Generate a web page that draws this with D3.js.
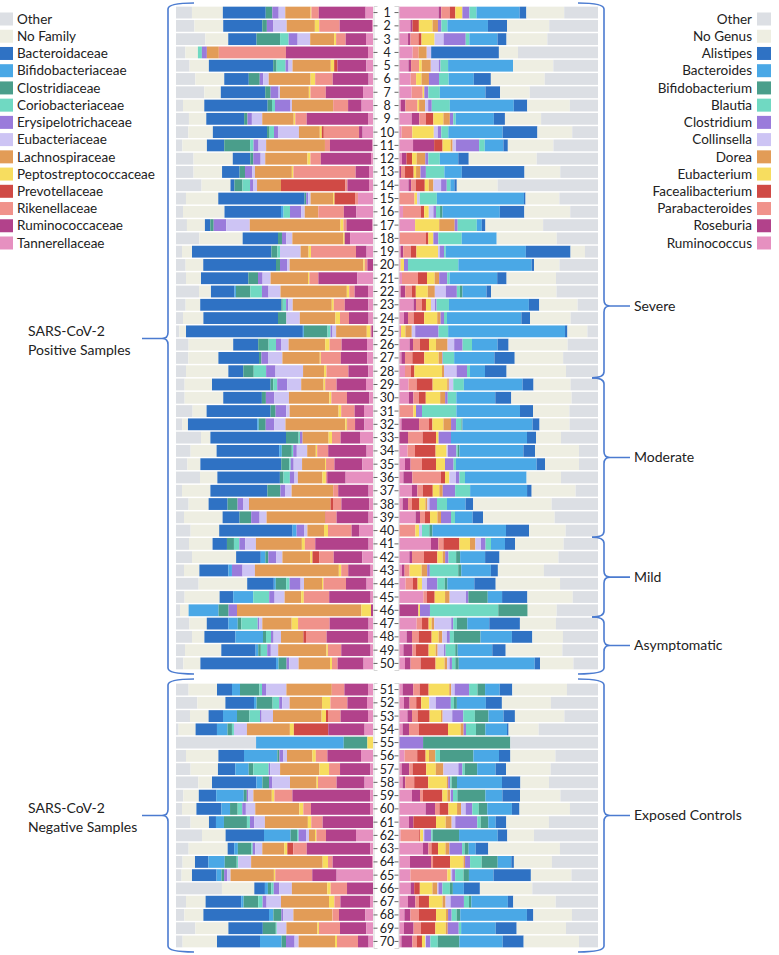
<!DOCTYPE html>
<html>
<head>
<meta charset="utf-8">
<script src="https://cdn.jsdelivr.net/npm/d3@7"></script>
<style>
  body { margin: 0; background: #fff; }
  svg { font-family: Lato, "Open Sans", sans-serif; }
</style>
</head>
<body>
<div id="chart"></div>
<script>
// ---------- DATA ---------- //
// family legend order == left panel stack order (outer -> centre)
const families = ["Other", "No Family", "Bacteroidaceae", "Bifidobacteriaceae", "Clostridiaceae",
  "Coriobacteriaceae", "Erysipelotrichaceae", "Eubacteriaceae", "Lachnospiraceae",
  "Peptostreptococcaceae", "Prevotellaceae", "Rikenellaceae", "Ruminococcaceae", "Tannerellaceae"];

// genus legend order (top -> bottom)
const genera = ["Other", "No Genus", "Alistipes", "Bacteroides", "Bifidobacterium", "Blautia",
  "Clostridium", "Collinsella", "Dorea", "Eubacterium", "Facealibacterium", "Parabacteroides",
  "Roseburia", "Ruminococcus"];

// right panel stacks from the centre outwards, i.e. reversed legend order
const genusStack = genera.slice().reverse();

const palette = ["#dcdfe4", "#eeeee2", "#2f72c4", "#4aa8e6", "#4a9e8b", "#70d9c2", "#9a7bdb",
  "#cdc4f4", "#e29c57", "#f7dd5f", "#d04a45", "#f0928b", "#b2428b", "#e690c0"];

const sampleIds = d3.range(1, 71);

const groups = [
  {name: "Severe", from: 1, to: 28},
  {name: "Moderate", from: 29, to: 40},
  {name: "Mild", from: 41, to: 46},
  {name: "Asymptomatic", from: 47, to: 50},
  {name: "Exposed Controls", from: 51, to: 70}
];

// relative abundance (%), one row per sample, columns in `families` order
const familyAbund = [
  [8, 15.5, 21.5, 0, 3.3, 0, 3.2, 3.3, 12.7, 0.4, 0, 3.7, 23.5, 3.7],
  [9.3, 14.5, 19.7, 0, 2.3, 0, 3.3, 6.7, 14.2, 2.2, 0, 10.3, 16.3, 0.5],
  [14.7, 11.5, 14.2, 0, 11.8, 4.3, 4.5, 6.3, 12, 1, 0, 4.8, 10.2, 3.5],
  [4.7, 6.3, 0, 0, 0, 2, 2.5, 0, 6, 0, 0, 33.7, 41.2, 2.5],
  [6.8, 9.7, 32.3, 0, 1.7, 4.5, 1.5, 2, 19.2, 1.7, 1.7, 0, 14.5, 3.3],
  [9.7, 14.5, 12.3, 0, 5.5, 0, 1.7, 2.8, 21, 2.3, 0, 8.8, 18, 2.2],
  [14.2, 8.3, 22.3, 0, 2.7, 0, 4, 0.7, 14.5, 0.8, 0, 7.7, 18.7, 5],
  [3.5, 10.7, 31.8, 0, 2.2, 1.5, 7.8, 0.7, 20.7, 0, 0, 7.5, 6.8, 5.7],
  [6.5, 8.7, 19, 0, 1.7, 0, 2.2, 5.2, 15.8, 0.8, 0, 5.7, 30.8, 2.5],
  [6.2, 12.3, 27.2, 0, 1.3, 2.2, 2, 10.5, 10.5, 1, 1, 17.7, 1.8, 5.2],
  [3.2, 12.3, 8.7, 0, 13, 1.7, 2.5, 3.8, 29.5, 0, 0, 2.5, 21.3, 0.3],
  [8.8, 19.7, 8.8, 0, 1.5, 0, 3.7, 2.3, 21.2, 1.5, 0, 5.2, 25.2, 1],
  [8.8, 14.3, 8.8, 0, 2.7, 0, 3.7, 1.3, 18.5, 0.8, 0, 31.2, 6.7, 2],
  [12.8, 14.5, 2, 0, 4, 3.8, 1.7, 1.8, 12, 0, 32.3, 1, 10.8, 2],
  [5, 16.2, 43.3, 0, 0.8, 0, 1, 1.2, 11.3, 0.7, 10.3, 1.5, 0, 7.5],
  [3.5, 20.8, 28.3, 1.3, 0, 3.2, 5.7, 1.7, 6.8, 0, 0, 12.8, 6.3, 8.3],
  [5.5, 9, 2.7, 0, 1.7, 0, 6.3, 11.8, 45.5, 1.5, 0, 1.5, 13, 0.3],
  [11.7, 21.7, 17.7, 0, 2, 0, 2.2, 3, 25.5, 0.7, 0, 0, 2.7, 11.5],
  [3, 5, 39.7, 0, 3, 1.3, 0, 10.3, 4, 1.2, 0, 22.5, 5.3, 3.2],
  [4.8, 8.8, 36.3, 0, 2, 0, 3.5, 1.3, 36.8, 0.7, 0, 1.3, 2.8, 0],
  [5, 7.5, 23.7, 0, 4.8, 0, 2.3, 4, 18.7, 0.7, 0, 4.5, 19.5, 7.8],
  [11.5, 6, 11.8, 0.7, 7.2, 5.8, 3.3, 6, 33.2, 1.2, 0, 2.7, 6.7, 2.5],
  [4.8, 7.3, 40.5, 0, 0.7, 1.7, 1, 2.3, 19.5, 1, 0, 5.5, 11.8, 2.3],
  [3.5, 10.2, 37.3, 0, 4.2, 0, 0, 6.7, 17.8, 2.3, 0, 4.5, 9.8, 2.2],
  [1.7, 3.3, 58.3, 0.5, 11.8, 1.5, 1, 1.8, 15.3, 1.8, 0, 0.5, 0.8, 0],
  [6.3, 22.3, 12.5, 0, 5.2, 3.7, 2.5, 3.8, 18.3, 2.2, 0, 6, 12.7, 3],
  [6.2, 15, 20.3, 0, 1.2, 0, 3.3, 7.2, 18.7, 0.5, 0, 10, 13.3, 2.8],
  [5, 21.2, 7.5, 0, 5.2, 6.2, 4.7, 13.8, 10.5, 1.2, 0, 11, 10, 2.3],
  [4.3, 13.7, 29.3, 0, 1.3, 2, 5, 7, 11.2, 0.8, 0, 5.7, 14.7, 3.5],
  [4.3, 19.3, 19.3, 0, 2, 0, 4.2, 7.3, 20.2, 1, 0, 7.8, 11.2, 1.8],
  [8.3, 7, 32, 0, 2.5, 0, 5.3, 1.7, 24.5, 1.3, 0, 6.7, 4.7, 4.5],
  [3.2, 2.8, 34.7, 0.8, 3.5, 0, 4.2, 5.7, 30, 0.8, 0.3, 3.8, 4.7, 4.3],
  [12.5, 4.7, 37.8, 0, 6.3, 0.7, 1.3, 0, 13, 1.7, 0, 4.3, 9.7, 6.5],
  [7.3, 13, 31.3, 1.3, 5, 0.7, 1.8, 5.2, 4.3, 0.7, 0, 5.5, 19.2, 3.2],
  [5.7, 6.5, 40.5, 0, 4, 0.7, 1.5, 4.2, 11.5, 0.5, 0, 4.2, 14, 5.3],
  [12, 8.7, 31.3, 0, 1.8, 3.2, 2.3, 1.7, 12.3, 1.7, 0, 0.7, 9.2, 13.7],
  [3, 14.2, 28.5, 0, 6.5, 0, 2.3, 3.3, 20.8, 0, 0, 2.5, 15.2, 2.2],
  [6.3, 10, 9.5, 0, 5, 0, 2.7, 3, 40.8, 0, 1.2, 4.2, 14, 1.8],
  [4, 19.3, 8.5, 0, 5.8, 0, 4.2, 3.5, 29.2, 0, 0.3, 5.5, 16, 2.2],
  [7.3, 14.3, 36.7, 2, 0, 0, 3.7, 1.7, 8.3, 2, 0, 11.8, 3.7, 7],
  [6.5, 11.8, 7.2, 0, 3.5, 2.7, 3, 5.3, 23, 1.5, 0, 5.2, 26.7, 2.2],
  [8, 22, 12.3, 2.3, 1.5, 0, 4, 3, 14, 1, 3.3, 7.3, 14.3, 5.3],
  [4, 7.7, 14.5, 1.8, 0, 0, 5.3, 6.2, 42, 1.2, 0, 3.5, 11.2, 1.2],
  [11.3, 24.3, 13.3, 1, 5.2, 1.7, 5.5, 1.7, 9, 0.7, 0, 11.3, 10.3, 3.2],
  [4.3, 17.5, 6.8, 10, 0, 8, 2.7, 5, 8.3, 1.3, 0, 12.7, 20.7, 1.2],
  [2, 4.3, 0, 15, 5, 0, 4.2, 0, 62.2, 4.8, 0, 0, 1, 0],
  [6.7, 8.7, 10.8, 4.7, 1.8, 8.2, 0.8, 1.5, 14.7, 3.2, 0, 15.8, 19.5, 2.2],
  [8, 6.2, 15.5, 13.8, 1.5, 2.5, 1.3, 3.7, 11.2, 0, 1.3, 10.3, 20.7, 2.5],
  [4.5, 18.2, 17.2, 1.3, 1.3, 3.2, 1.8, 3.7, 24.2, 0.7, 0, 6.7, 14.7, 1.2],
  [3.7, 8.5, 37.8, 1.3, 4, 0, 1.3, 4.7, 15.7, 1, 0, 2.8, 13, 4.7],
  [6.3, 14.2, 7.5, 4, 9.7, 1.3, 2, 10.2, 22.7, 0, 0, 6.3, 11.8, 2.5],
  [10.7, 14, 14.3, 1.3, 8, 3.3, 1.5, 3.7, 16.2, 4.2, 0, 8.5, 9.8, 3],
  [7, 9.3, 7.2, 7, 6.2, 5.3, 0.8, 5.7, 24.3, 2.2, 1, 6.3, 13.7, 2.5],
  [1.3, 8.5, 10.7, 5.3, 2.2, 1, 0, 6.5, 21.5, 2, 17.2, 0, 18.2, 4.2],
  [40, 0, 0, 43.8, 11.8, 0, 0, 0, 0, 2.8, 0, 0, 0, 0],
  [5, 16.2, 12.8, 16.7, 1, 0, 2, 1.8, 12.7, 1.7, 0, 5.8, 16.8, 6],
  [7.3, 13.7, 8.7, 6.7, 2.3, 7.7, 0.7, 5, 19.7, 4.8, 0, 5.5, 15.2, 1.3],
  [11.2, 6.8, 22.2, 3, 3.3, 0, 1.7, 8.8, 13.3, 0.7, 0, 9.3, 14, 4.2],
  [3.7, 7.7, 8.7, 13.8, 1.5, 0, 0.8, 2.5, 9.2, 1.3, 0, 9, 39, 1.3],
  [3, 7.2, 12.5, 4.3, 3.8, 2.3, 1.8, 4.7, 22, 2, 0, 3.8, 29.5, 1.5],
  [7.3, 9.2, 3.5, 4, 11.5, 1.5, 2.2, 5.3, 21.5, 1.7, 0, 5.7, 25.2, 0],
  [13, 11.8, 19.2, 13.3, 3.2, 0.8, 3.7, 1.5, 3, 0.7, 0, 4.8, 15, 8.5],
  [6.3, 19.5, 3.3, 1.8, 6.7, 0.7, 1.3, 3.5, 11, 1.5, 3, 6.7, 31.8, 1.3],
  [3.3, 6.2, 6.7, 8.2, 6, 0.7, 0, 6.5, 35.8, 2.7, 0, 2.3, 19.7, 0.5],
  [2.8, 5.2, 12.3, 2.5, 1.3, 0, 1.5, 1.7, 21.7, 0.7, 0, 18.5, 12.2, 18.2],
  [23, 16.2, 5.3, 1.5, 1.7, 1.2, 2.8, 6.3, 17.7, 1.7, 0, 8.2, 13, 0],
  [5, 9.8, 17.8, 1.2, 7.3, 2.2, 2, 7.2, 24, 2.7, 0, 3, 14.8, 1.5],
  [4.2, 9.5, 32.8, 2.2, 4, 0, 1, 5, 19.3, 0.2, 0, 3.3, 13.2, 3.8],
  [9.7, 16.5, 17.2, 0, 6.5, 0.5, 0, 4.8, 15.5, 0.8, 0, 10.5, 13.2, 3.3],
  [3.3, 17.2, 21.5, 10.8, 2.2, 0, 4.3, 2, 18.2, 1, 0, 10.5, 5.3, 2.2]
];

// relative abundance (%), one row per sample, columns in `genusStack` order
const genusAbund = [
  [19.7, 1.3, 4.2, 2.8, 3.5, 0, 0, 3.5, 3.5, 0, 21.5, 3.3, 18.8, 16.8],
  [5.7, 1, 0, 3.2, 6.8, 2.7, 0, 1.7, 3, 0, 20.2, 9.5, 21, 24.3],
  [4.5, 1.2, 4, 1.5, 6.5, 0, 4.5, 11, 1.8, 0, 14, 4.5, 20.3, 25.2],
  [6.8, 0, 3, 0, 0, 4, 2.2, 0, 0, 0, 0, 33.7, 9.5, 39.8],
  [4.7, 1.3, 4, 0, 1.3, 4.5, 4, 0.8, 3.8, 0, 32.3, 0, 20, 22.2],
  [5.8, 0, 2.7, 0, 2.7, 3.7, 0, 5, 4.8, 0, 12.5, 8.5, 26.8, 26.5],
  [6.3, 0, 5.5, 0, 0.8, 0, 0, 2, 5.7, 0, 22.7, 7.3, 14.7, 34],
  [1, 2.2, 6, 0, 0.8, 3, 1.5, 1.8, 9, 0, 31.8, 6.7, 21.2, 14],
  [6.3, 3.8, 3.2, 3.8, 5, 3.2, 0, 1.7, 1.2, 0, 19, 5.5, 18, 28.3],
  [1.3, 0, 5.3, 0, 10.7, 0, 2, 1.7, 3.5, 0, 27, 17.3, 17.3, 12.8],
  [7, 10.5, 0, 4.2, 4, 1, 1.7, 11.5, 2.8, 0, 9.3, 2.2, 22.7, 22.2],
  [1.5, 2.2, 0, 2.8, 2.3, 4.3, 0, 1.5, 5.7, 0, 9.2, 5.2, 33.8, 30.5],
  [0, 1, 2, 4.3, 1.2, 2.2, 0, 2.7, 9.2, 0, 8.7, 31.2, 17.8, 18.8],
  [4.7, 1.3, 2.3, 4.5, 2, 2.3, 3.8, 2.8, 1.8, 0, 2, 1.2, 20.3, 49.8],
  [0, 0, 7.7, 0, 1.3, 0, 1.3, 0, 8.5, 0, 43.3, 0.8, 16.8, 19.2],
  [2, 0, 8.8, 1.7, 2.3, 0, 2.3, 1.3, 2, 1.2, 28.5, 12.2, 22.8, 13.8],
  [8, 0, 0, 0, 12, 7.7, 0, 1.5, 9.5, 0, 2.5, 1.8, 28.7, 27.3],
  [0.5, 0, 13, 1.2, 2.5, 0, 0, 2.5, 11.7, 0, 17.5, 0, 30, 20.7],
  [0.8, 1.3, 3.8, 2.8, 10.8, 0, 0.8, 2.2, 0.8, 0, 40, 22.3, 7.2, 6.5],
  [0.8, 0, 0, 0, 1.7, 0, 0, 2, 25.2, 0, 36.7, 1.2, 12.7, 19.3],
  [1.5, 0, 8, 4.5, 3.8, 2.3, 0, 4, 1.2, 0, 23.8, 4.7, 24.7, 21],
  [0.8, 2.3, 3.3, 2, 6, 3.5, 5.5, 5.5, 1.5, 1.3, 12, 2.3, 32.7, 20.7],
  [7.3, 1.2, 3, 2, 2.5, 0, 2, 0.8, 6.2, 0, 40, 5.2, 19.2, 10.2],
  [2.5, 2, 2.8, 5.3, 6.5, 1.7, 0, 1.7, 1.5, 0, 37.2, 4.3, 20.3, 13.7],
  [1, 0, 0, 0, 2.2, 3.2, 1.7, 11.7, 4.8, 0, 58.5, 1.2, 10, 5.3],
  [5.3, 1.7, 3.5, 4.5, 3.5, 5.8, 3.3, 4.2, 4.7, 0, 12.8, 5.5, 29.5, 15.2],
  [1.2, 1.8, 3.7, 6, 7.2, 1.8, 0, 0.3, 5.7, 0, 20.2, 10.2, 24.3, 17.5],
  [3, 0, 3, 1.7, 13.8, 1, 6.3, 5.2, 1.5, 0, 7.5, 10.8, 29.7, 16],
  [4.8, 0, 4, 8, 7.3, 0.8, 2.2, 0, 5.3, 0, 29.3, 5.5, 18.5, 13.7],
  [5, 2.2, 2.7, 3.5, 7.2, 2.5, 0, 1.3, 4.3, 0, 19.5, 8, 30.2, 13.2],
  [0, 0, 7.2, 0, 1.3, 0, 0, 3, 17.2, 0, 31.8, 6.5, 18.2, 14.3],
  [1.2, 8.8, 5, 1.7, 5.5, 3.8, 0, 2.5, 2.7, 0.5, 35, 3.5, 15, 14.2],
  [0, 4.5, 7.3, 6.7, 1.3, 0, 0, 6.2, 0, 0, 38, 4.5, 12.5, 18.5],
  [4.3, 0, 3.7, 10.3, 5.5, 0, 0.7, 4.2, 0.7, 0.8, 32, 5.8, 22, 9.5],
  [3, 2.8, 5.7, 7, 4.5, 0, 0, 4.3, 1.2, 0, 40.3, 4.2, 17, 9.5],
  [2.2, 4.5, 14.3, 2, 2.2, 0, 3.3, 1.7, 2.8, 0, 30.8, 0, 17.2, 18.5],
  [6.5, 2.7, 2.7, 5, 3.3, 1.7, 0, 6.2, 7.5, 0, 28.5, 2.3, 22, 11.2],
  [1.8, 2.7, 2, 3.7, 3, 1, 1, 3.8, 5, 0, 9.3, 3.8, 39.2, 23.2],
  [8.3, 2.2, 2.5, 2.5, 3.7, 1.8, 0, 5, 2, 0, 8.8, 5.2, 35.8, 21.7],
  [0, 0, 8.2, 0, 1.8, 0, 1.5, 0, 3.7, 1.5, 36.8, 11.5, 18.3, 16.2],
  [16, 3.7, 2.5, 8, 5.3, 2.7, 2.8, 2.3, 2.7, 0, 7, 5, 24.3, 17.2],
  [5.2, 1.3, 6, 6.7, 2.7, 1.2, 0, 1.7, 3.8, 2, 12.5, 7.2, 29.5, 19.8],
  [1.5, 1.3, 2.5, 0, 6, 2.8, 0, 1.3, 14.2, 1.5, 14.8, 3.5, 23, 27],
  [3.3, 0, 3.7, 2.3, 2.2, 0, 2.5, 5.2, 3.7, 1.3, 13.5, 10.7, 32.2, 19],
  [12.2, 0, 1.7, 4, 5.2, 2.3, 8.2, 1.2, 0, 9.7, 7.2, 12.7, 22.7, 12.7],
  [0, 9.7, 0, 0, 0.8, 0, 0, 5, 34.2, 14.7, 0, 0, 14.5, 20.7],
  [8.8, 0, 2.7, 3.3, 1.5, 1.3, 8.5, 1, 1.8, 5.2, 11, 15.3, 18, 21],
  [3.8, 2.7, 3.3, 6.5, 3.5, 1.8, 2.3, 1.5, 2, 13.3, 15.7, 10.2, 15.3, 17.5],
  [2.2, 4.5, 1.8, 6.3, 3.5, 1, 3.2, 0.8, 4.8, 1.2, 17.3, 6.7, 28.3, 17.8],
  [3, 2.8, 5, 7.5, 4.5, 1.3, 1.2, 1.2, 1.7, 1.7, 38, 2.7, 16.7, 12.3],
  [1.8, 5.3, 3.2, 4.5, 10.3, 1, 1.7, 7.2, 4.2, 3.8, 7.3, 6.3, 27.3, 15.5],
  [2.5, 2.8, 3.3, 2.5, 4, 0, 3.3, 7.5, 1.5, 1.5, 14.5, 8, 24.5, 23.5],
  [4.2, 2.3, 2.8, 6, 5.7, 0.8, 4.8, 5.5, 5.8, 6.8, 7.5, 5.7, 24.7, 16.8],
  [1.8, 3.2, 5, 14.5, 6.3, 1.5, 0, 1.2, 5, 4.7, 10.8, 0.8, 15, 29.7],
  [0, 0, 0, 0, 0, 0, 0, 12, 0, 43.5, 0, 0, 0, 43.7],
  [2.8, 0, 6.3, 4.2, 1.7, 3.2, 0, 0, 2.3, 16.7, 12.8, 5.7, 22.5, 21.3],
  [1.3, 3.8, 1.7, 6.8, 4.8, 3.8, 7.5, 2, 1.2, 6.2, 9.2, 5.2, 22.3, 23.7],
  [1.8, 1.3, 4.5, 7, 9.3, 0.7, 0, 1, 0.7, 2.7, 22.5, 9.2, 14.3, 24.5],
  [6.5, 4, 1.5, 9.7, 2.5, 1.3, 0.5, 1, 2.2, 14, 8.5, 8.8, 20.2, 18.8],
  [13.3, 4.7, 2.2, 4.5, 4.3, 2, 2.3, 3.3, 3.2, 4.3, 12.3, 3.8, 25.2, 14],
  [5, 2.2, 0, 11.3, 4.8, 3, 1.8, 11, 1.7, 3.8, 3.7, 5.3, 21.3, 24.5],
  [0.8, 0, 9.3, 0.5, 1.5, 0, 0.5, 3.5, 0.7, 13.2, 19.3, 4.8, 13.3, 32],
  [12, 2.7, 1.5, 3.3, 3.7, 2, 0, 6.3, 1.3, 2, 3.5, 6.3, 35.8, 19],
  [5.5, 10.5, 1, 8.5, 6.7, 0.8, 0, 2.5, 5.8, 8, 6.8, 1.3, 19, 23],
  [5.7, 0, 18.5, 0, 1.7, 0, 0.7, 1.5, 4.2, 2.7, 12.3, 18.7, 20.3, 13.3],
  [5.8, 1.8, 0, 2.8, 6.3, 2.5, 0.5, 2, 3.7, 1.5, 5.5, 8, 26.2, 32.8],
  [4.5, 3.7, 1.8, 5, 6.8, 1.5, 2.5, 6.7, 2.5, 1.2, 18.3, 2.7, 21.2, 21.2],
  [2.7, 3, 4.3, 8.5, 5, 1, 0, 1.8, 2.5, 1.8, 33.3, 3.2, 19.3, 13],
  [2.5, 4.8, 3.7, 7.2, 5.2, 1, 0, 5.5, 1.2, 0, 17.3, 10.5, 24.7, 16],
  [1.2, 5.5, 2.3, 2.5, 1.7, 0, 0.3, 2.2, 3.7, 10.8, 21.7, 10.5, 27.7, 9.5]
];

// ---------- RENDER ---------- //
const W = 779, H = 955;

const svg = d3.select("#chart").append("svg")
  .attr("width", W)
  .attr("height", H);

const familyColor = d3.scaleOrdinal().domain(families).range(palette);
const genusColor = d3.scaleOrdinal().domain(genera).range(palette);

// x scales: both panels are 100% stacks
const xLeft = d3.scaleLinear().domain([0, 1]).range([176, 373]);
const xRight = d3.scaleLinear().domain([0, 1]).range([399, 598]);

// y: positive samples on top, negative samples below a small gap
const yPos = d3.scaleBand().domain(sampleIds.slice(0, 50)).range([6, 670]).paddingInner(0.11).paddingOuter(0.05);
const yNeg = d3.scaleBand().domain(sampleIds.slice(50)).range([683, 948]).paddingInner(0.11).paddingOuter(0.05);
const y = id => id <= 50 ? yPos(id) : yNeg(id);
const bh = yPos.bandwidth();

// stacks
function toRows(matrix, keys) {
  return matrix.map((vals, i) => {
    const o = {id: sampleIds[i]};
    keys.forEach((k, j) => o[k] = vals[j]);
    return o;
  });
}

const famSeries = d3.stack().keys(families).offset(d3.stackOffsetExpand)(toRows(familyAbund, families));
const genSeries = d3.stack().keys(genusStack).offset(d3.stackOffsetExpand)(toRows(genusAbund, genusStack));

function drawPanel(series, x, color) {
  const g = svg.append("g");
  g.selectAll("g")
    .data(series)
    .join("g")
    .attr("fill", d => color(d.key))
    .selectAll("rect")
    .data(d => d)
    .join("rect")
    .attr("x", d => x(d[0]))
    .attr("y", d => y(d.data.id))
    .attr("width", d => Math.max(0, x(d[1]) - x(d[0])))
    .attr("height", bh);
}

drawPanel(famSeries, xLeft, familyColor);
drawPanel(genSeries, xRight, genusColor);

// sample number axis in the middle
[yPos, yNeg].forEach(sc => {
  svg.append("g")
    .attr("transform", "translate(373.5,0)")
    .call(d3.axisRight(sc).tickSize(4).tickFormat(""))
    .call(g => g.select(".domain").attr("stroke", "#d6d6d6"))
    .call(g => g.selectAll(".tick line").attr("stroke", "#666"));
  svg.append("g")
    .attr("transform", "translate(398.5,0)")
    .call(d3.axisLeft(sc).tickSize(4).tickFormat(""))
    .call(g => g.select(".domain").attr("stroke", "#d6d6d6"))
    .call(g => g.selectAll(".tick line").attr("stroke", "#666"));
});

svg.append("g")
  .selectAll("text")
  .data(sampleIds)
  .join("text")
  .attr("x", 387)
  .attr("y", d => y(d) + bh / 2)
  .attr("dy", "0.36em")
  .attr("text-anchor", "middle")
  .attr("font-size", 12.5)
  .attr("fill", "#222")
  .text(d => d);

// legends
const legL = svg.append("g").selectAll("g")
  .data(families)
  .join("g")
  .attr("transform", (d, i) => "translate(0," + (19 + i * 17.23) + ")");
legL.append("rect").attr("x", 0).attr("y", -6.5).attr("width", 13).attr("height", 13).attr("fill", d => familyColor(d));
legL.append("text").attr("x", 17).attr("dy", "0.35em").attr("font-size", 13.5).attr("fill", "#222").text(d => d);

const legR = svg.append("g").selectAll("g")
  .data(genera)
  .join("g")
  .attr("transform", (d, i) => "translate(0," + (19 + i * 17.23) + ")");
legR.append("rect").attr("x", 757).attr("y", -6.5).attr("width", 14).attr("height", 13).attr("fill", d => genusColor(d));
legR.append("text").attr("x", 752).attr("dy", "0.35em").attr("text-anchor", "end").attr("font-size", 13.5).attr("fill", "#222").text(d => d);

// braces
// dir = +1: arms point right, tip points left
function brace(x, y0, y1, ym, dir, armTop, armBot, tip) {
  const r = 6;
  return "M" + (x + dir * armTop) + "," + y0 +
    " Q" + x + "," + y0 + " " + x + "," + (y0 + r) +
    " L" + x + "," + (ym - r) +
    " Q" + x + "," + ym + " " + (x - dir * r) + "," + ym +
    " L" + (x - dir * tip) + "," + ym +
    " M" + (x - dir * r) + "," + ym +
    " Q" + x + "," + ym + " " + x + "," + (ym + r) +
    " L" + x + "," + (y1 - r) +
    " Q" + x + "," + y1 + " " + (x + dir * armBot) + "," + y1;
}

const braceColor = "#4b7bd0";
const gap = (yPos.step() - bh) / 2;
const rowTop = id => y(id) - gap;
const rowBot = id => y(id) + bh + gap;

// left: positive / negative samples
const sides = [
  {label: ["SARS-CoV-2", "Positive Samples"], y0: 3, y1: 674},
  {label: ["SARS-CoV-2", "Negative Samples"], y0: 679, y1: 952}
];
sides.forEach(s => {
  const ym = (s.y0 + s.y1) / 2;
  svg.append("path")
    .attr("d", brace(168, s.y0, s.y1, ym, 1, 26, 26, 26))
    .attr("fill", "none")
    .attr("stroke", braceColor)
    .attr("stroke-width", 1.6);
  svg.append("text")
    .attr("x", 28)
    .attr("y", ym - 3)
    .attr("font-size", 14)
    .attr("fill", "#222")
    .selectAll("tspan")
    .data(s.label)
    .join("tspan")
    .attr("x", 28)
    .attr("dy", (d, i) => i === 0 ? 0 : 19.5)
    .text(d => d);
});

// right: severity groups
const tipY = {"Severe": 306};
groups.forEach((gr, i) => {
  const first = i === 0, last = i === groups.length - 1, beforeGap = gr.to === 50;
  const y0 = first ? 3 : (gr.from === 51 ? 679 : rowTop(gr.from));
  const y1 = beforeGap ? 674 : (last ? 952 : rowBot(gr.to));
  const ym = tipY[gr.name] || (y0 + y1) / 2;
  const armT = (first || gr.from === 51) ? 26 : 12;
  const armB = (beforeGap || last) ? 26 : 12;
  svg.append("path")
    .attr("d", brace(604, y0, y1, ym, -1, armT, armB, 26))
    .attr("fill", "none")
    .attr("stroke", braceColor)
    .attr("stroke-width", 1.6);
  svg.append("text")
    .attr("x", 634)
    .attr("y", ym)
    .attr("dy", "0.35em")
    .attr("font-size", 14)
    .attr("fill", "#222")
    .text(gr.name);
});
</script>
</body>
</html>
